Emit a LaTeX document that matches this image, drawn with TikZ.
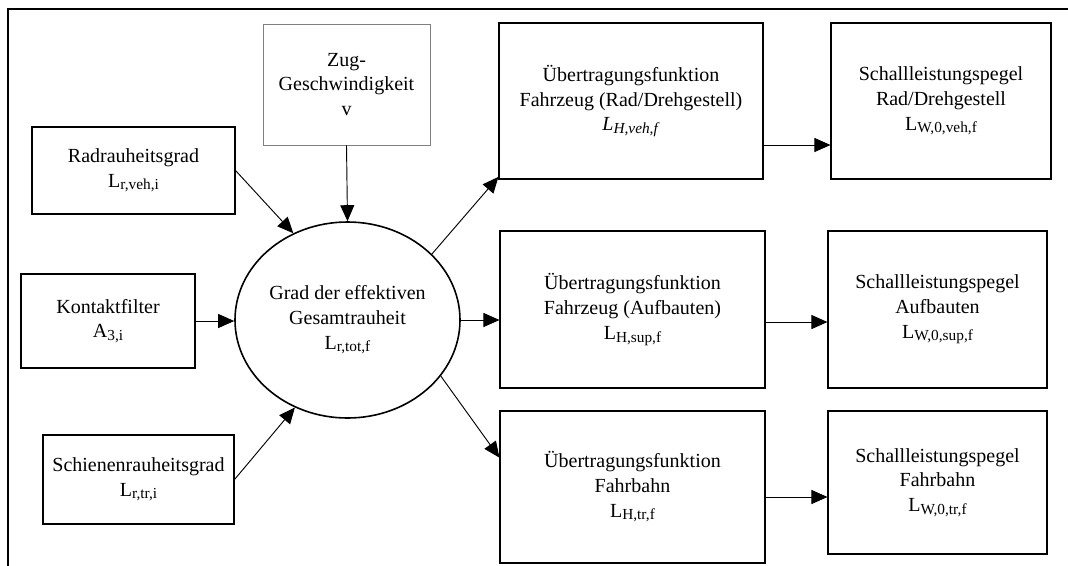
\documentclass[tikz,border=0pt]{standalone}
\usepackage{fontspec}
\setmainfont{Liberation Serif}
\usetikzlibrary{shapes.geometric,arrows.meta}
\newcommand{\idx}[1]{\raisebox{-0.3ex}{\fontsize{11.5}{12}\selectfont #1}}

\begin{document}
\begin{tikzpicture}[x=0.75pt,y=-0.75pt,
    box/.style={draw,line width=0.8pt,align=center,inner sep=2pt,font=\fontsize{15}{18.5}\selectfont},
    oval/.style={draw,ellipse,line width=1.2pt,align=center,inner sep=0pt,font=\fontsize{15}{18.5}\selectfont},
    pfeil/.style={-{Triangle[length=12pt,width=10.5pt]},line width=0.7pt}]
  \useasboundingbox (0,0) rectangle (1068,565);
  % Rahmen (rechts und unten abgeschnitten)
  \draw[line width=1.8pt] (8,580) -- (8,9) -- (1080,9);

  % Eingangsgroessen
  \node[box,draw=black!50,line width=0.5pt,minimum width=125.25pt,minimum height=90.75pt] (zug) at (346.5,84.5) {Zug-\\Geschwindigkeit\\v};
  \node[box,minimum width=152.25pt,minimum height=65.25pt] (rad) at (133.5,170.5) {Radrauheitsgrad\\L\idx{r,veh,i}};
  \node[box,minimum width=130.5pt,minimum height=70.5pt] (kontakt) at (108,321) {Kontaktfilter\\A\idx{3,i}};
  \node[box,minimum width=143.25pt,minimum height=66.75pt] (schiene) at (138.5,479.5) {Schienenrauheitsgrad\\L\idx{r,tr,i}};

  % Gesamtrauheit
  \node[oval,minimum width=168.75pt,minimum height=147pt] (ges) at (347.5,320) {Grad der effektiven\\Gesamtrauheit\\L\idx{r,tot,f}};

  % Uebertragungsfunktionen
  \node[box,minimum width=198pt,minimum height=117pt] (ueA) at (631,101) {Übertragungsfunktion\\Fahrzeug (Rad/Drehgestell)\\\textit{L}\idx{\textit{H,veh,f}}};
  \node[box,minimum width=198.75pt,minimum height=117.75pt] (ueB) at (632.5,309.5) {Übertragungsfunktion\\Fahrzeug (Aufbauten)\\L\idx{H,sup,f}};
  \node[box,minimum width=198.75pt,minimum height=114pt] (ueC) at (632.5,487) {Übertragungsfunktion\\Fahrbahn\\L\idx{H,tr,f}};

  % Schallleistungspegel
  \node[box,minimum width=165pt,minimum height=117pt] (swA) at (941,101) {Schallleistungspegel\\Rad/Drehgestell\\L\idx{W,0,veh,f}};
  \node[box,minimum width=164.25pt,minimum height=117.75pt] (swB) at (937.5,309.5) {Schallleistungspegel\\Aufbauten\\L\idx{W,0,sup,f}};
  \node[box,minimum width=164.25pt,minimum height=107.25pt] (swC) at (937.5,482.5) {Schallleistungspegel\\Fahrbahn\\L\idx{W,0,tr,f}};

  % Pfeile
  \draw[pfeil] (rad.east) -- (ges.122);
  \draw[pfeil] (zug.south) -- (ges.north);
  \draw[pfeil] (kontakt.east) -- (kontakt.east -| ges.west);
  \draw[pfeil] (schiene.east) -- (ges.239);

  \draw[pfeil] (ges.38) -- ([yshift=2pt]ueA.south west);
  \draw[pfeil] (ges.east) -- (ges.east -| ueB.west);
  \draw[pfeil] (ges.-31) -- ([yshift=22pt]ueC.west);

  \coordinate (a1) at ([yshift=-33pt]ueA.east);
  \coordinate (a2) at ([yshift=-9.4pt]ueB.east);
  \coordinate (a3) at ([yshift=-7.5pt]ueC.east);
  \draw[pfeil] (a1) -- (a1 -| swA.west);
  \draw[pfeil] (a2) -- (a2 -| swB.west);
  \draw[pfeil] (a3) -- (a3 -| swC.west);
\end{tikzpicture}
\end{document}
